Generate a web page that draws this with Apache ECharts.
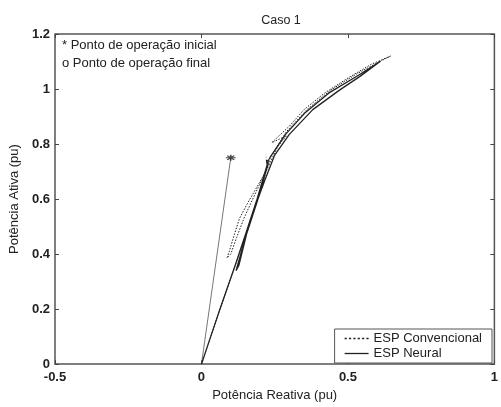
<!DOCTYPE html>
<html><head><meta charset="utf-8">
<script src="https://cdn.jsdelivr.net/npm/echarts@6/dist/echarts.min.js"></script>
<style>html,body{margin:0;padding:0;background:#fff}#c{width:501px;height:407px}</style>
</head><body><div id="c"></div>
<script>
// Reactive power (x) and active power (y) trajectories
const neuralP = [0.10, 0.00, 0.06, 0.117, 0.15, 0.19, 0.23, 0.287, 0.355, 0.434, 0.536, 0.61, 0.54, 0.47, 0.38, 0.30, 0.25, 0.215, 0.165, 0.128, 0.118, 0.15, 0.19, 0.225, 0.22];
const neuralQ = [0.75, 0.00, 0.19, 0.365, 0.47, 0.60, 0.745, 0.835, 0.915, 0.985, 1.05, 1.10, 1.045, 0.995, 0.925, 0.835, 0.76, 0.665, 0.52, 0.36, 0.34, 0.46, 0.59, 0.72, 0.755];
const convP = [0.10, 0.00, 0.06, 0.117, 0.155, 0.195, 0.235, 0.29, 0.36, 0.44, 0.53, 0.60, 0.646, 0.58, 0.50, 0.42, 0.35, 0.30, 0.25, 0.24, 0.29, 0.26, 0.22, 0.16, 0.13, 0.112, 0.095, 0.087, 0.10, 0.12, 0.145, 0.175, 0.21, 0.23, 0.22];
const convQ = [0.75, 0.00, 0.19, 0.365, 0.48, 0.61, 0.75, 0.845, 0.925, 0.995, 1.055, 1.095, 1.12, 1.09, 1.04, 0.985, 0.925, 0.865, 0.815, 0.805, 0.83, 0.79, 0.70, 0.59, 0.53, 0.47, 0.41, 0.386, 0.40, 0.46, 0.53, 0.60, 0.68, 0.73, 0.755];
const initialPoint = [0.10, 0.75];
const finalPoint = [0.22, 0.755];
const seriesNames = ['ESP Convencional', 'ESP Neural'];
const titleText = 'Caso 1';
const xName = 'Potência Reativa (pu)';
const yName = 'Potência Ativa (pu)';
const notes = ['* Ponto de operação inicial', 'o Ponto de operação final'];

const zip = (a, b) => a.map((v, i) => [v, b[i]]);
const font = 'Liberation Sans, Arial, sans-serif';
const chart = echarts.init(document.getElementById('c'), null, {renderer: 'canvas'});
const axisCommon = {
  axisLine: {show: false, onZero: false},
  axisTick: {show: true, inside: true, length: 4, lineStyle: {color: '#444'}},
  splitLine: {show: false}
};
const labelStyle = {fontFamily: font, fontSize: 13, color: '#222', fontWeight: 'bold'};
const nameStyle = {fontFamily: font, fontSize: 13, color: '#222'};
// legend sample icons (dotted and solid short lines)
let dotted = 'path://';
for (let i = 0; i < 24; i += 4) dotted += 'M' + i + ',0h2v1.4h-2z';
const solid = 'path://M0,0h24v1.3H0z';
chart.setOption({
  animation: false,
  backgroundColor: '#fff',
  title: {text: titleText, left: 276, top: 9, textAlign: 'center',
    textStyle: {fontFamily: font, fontSize: 12.5, fontWeight: 'normal', color: '#222'}},
  grid: {left: 55, right: 4, top: 34, bottom: 34, show: true, borderColor: '#555', borderWidth: 1.5},
  xAxis: [
    Object.assign({type: 'value', min: -0.5, max: 1, interval: 0.5, position: 'bottom',
      name: xName, nameLocation: 'middle', nameGap: 22, nameTextStyle: nameStyle,
      axisLabel: Object.assign({margin: 7}, labelStyle)}, axisCommon),
    Object.assign({type: 'value', min: -0.5, max: 1, interval: 0.5, position: 'top', axisLabel: {show: false}}, axisCommon)
  ],
  yAxis: [
    Object.assign({type: 'value', min: 0, max: 1.2, interval: 0.2, position: 'left',
      name: yName, nameLocation: 'middle', nameGap: 30, nameTextStyle: nameStyle,
      axisLabel: Object.assign({margin: 5}, labelStyle)}, axisCommon),
    Object.assign({type: 'value', min: 0, max: 1.2, interval: 0.2, position: 'right', axisLabel: {show: false}}, axisCommon)
  ],
  legend: {
    right: 9, bottom: 44, orient: 'vertical', itemGap: 2, itemWidth: 24, itemHeight: 13,
    padding: [3, 10, 3, 10], borderColor: '#555', borderWidth: 1, backgroundColor: '#fff',
    textStyle: {fontFamily: font, fontSize: 13, color: '#222'},
    itemStyle: {color: '#222', borderWidth: 0},
    data: [{name: seriesNames[0], icon: dotted, itemHeight: 2}, {name: seriesNames[1], icon: solid}]
  },
  graphic: [
    {type: 'text', left: 62, top: 39, style: {text: notes[0], font: '13px ' + font, fill: '#222'}},
    {type: 'text', left: 62, top: 57, style: {text: notes[1], font: '13px ' + font, fill: '#222'}}
  ],
  series: [
    {type: 'line', data: zip(neuralP, neuralQ).slice(0, 2), showSymbol: false, symbol: 'none',
      lineStyle: {color: '#777', width: 1}, z: 1, silent: true},
    {name: seriesNames[0], type: 'line', data: zip(convP, convQ).slice(1), showSymbol: false, symbol: 'none',
      itemStyle: {color: '#222'}, lineStyle: {color: '#222', width: 1, type: [1.5, 1.5]}, z: 3},
    {name: seriesNames[1], type: 'line', data: zip(neuralP, neuralQ).slice(1), showSymbol: false, symbol: 'none',
      itemStyle: {color: '#222'}, lineStyle: {color: '#222', width: 1.3}, z: 2},
    {type: 'scatter', data: [initialPoint], symbol: 'path://M0,5L10,5M5,0L5,10M1.5,1.5L8.5,8.5M8.5,1.5L1.5,8.5',
      symbolSize: [10, 6], itemStyle: {color: 'none', borderColor: '#222', borderWidth: 1.2}, z: 5},
    {type: 'scatter', data: [finalPoint], symbol: 'emptyCircle', symbolSize: 5,
      itemStyle: {color: '#fff', borderColor: '#333', borderWidth: 1}, z: 5}
  ]
});
</script></body></html>
